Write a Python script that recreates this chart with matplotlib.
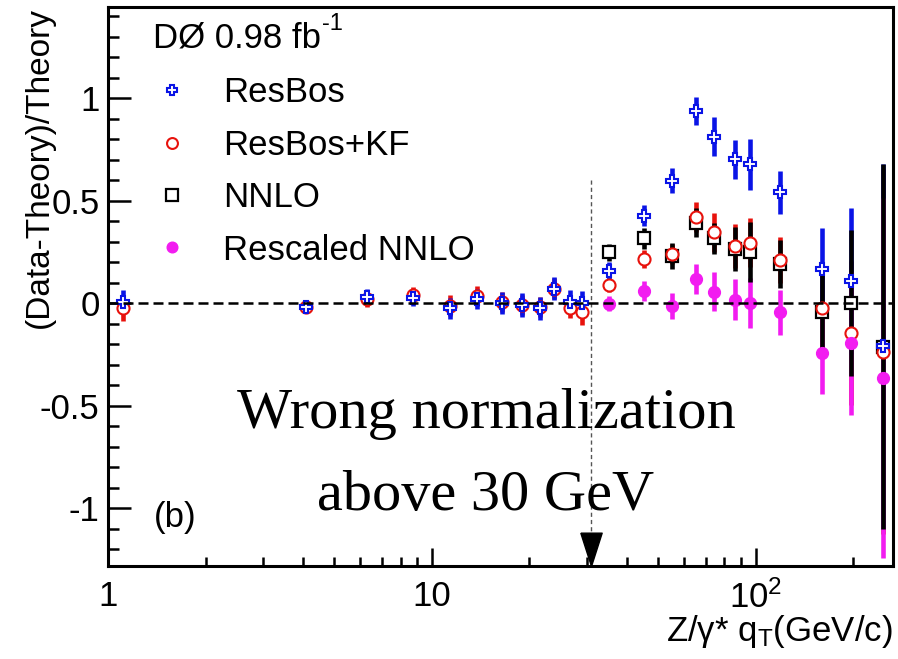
import numpy as np
import matplotlib.pyplot as plt
from matplotlib.ticker import FixedLocator, FixedFormatter, LogLocator, MultipleLocator, NullFormatter

plt.rcParams['font.family'] = ['Liberation Sans', 'DejaVu Sans']
plt.rcParams['mathtext.fontset'] = 'custom'
plt.rcParams['mathtext.rm'] = 'Liberation Sans'
plt.rcParams['mathtext.it'] = 'Liberation Sans:italic'
plt.rcParams['axes.unicode_minus'] = False

# bin centres in qT (GeV/c)
qt = [1.11, 4.08, 6.29, 8.75, 11.4, 13.8, 16.4, 19.0, 21.5, 23.8, 26.7, 29.0,
      35.2, 45.1, 55.2, 65.3, 74.2, 86.3, 96.0, 118.5, 159.5, 197.0, 247.0]
qt_hi = qt[12:]   # NNLO only above 30 GeV

resbos = [0.005, -0.02, 0.028, 0.023, -0.026, 0.02, 0.0, -0.01, -0.026, 0.07, 0.006, 0.0,
          0.158, 0.426, 0.597, 0.937, 0.811, 0.701, 0.677, 0.540, 0.164, 0.107, -0.21]
resbos_err = [0.06, 0.03, 0.04, 0.04, 0.05, 0.05, 0.056, 0.06, 0.055, 0.055, 0.057, 0.06,
              0.04, 0.05, 0.06, 0.07, 0.095, 0.095, 0.125, 0.105, 0.2, 0.355, 0.89]

resbos_kf = [-0.026, -0.02, 0.02, 0.04, -0.013, 0.034, 0.005, -0.01, -0.02, 0.07, -0.025, -0.045,
             0.088, 0.215, 0.239, 0.421, 0.345, 0.278, 0.294, 0.21, -0.026, -0.146, -0.237]
resbos_kf_err = [0.06, 0.03, 0.04, 0.04, 0.05, 0.05, 0.05, 0.05, 0.05, 0.05, 0.05, 0.06,
                 0.035, 0.045, 0.05, 0.073, 0.095, 0.106, 0.12, 0.11, 0.2, 0.35, 0.89]

nnlo = [0.247, 0.315, 0.229, 0.392, 0.315, 0.262, 0.25, 0.19, -0.045, 0.0, -0.213]
nnlo_err = [0.04, 0.05, 0.065, 0.07, 0.075, 0.108, 0.146, 0.118, 0.21, 0.356, 0.89]

rescaled = [-0.003, 0.058, -0.015, 0.115, 0.055, 0.015, 0.0, -0.045, -0.242, -0.197, -0.366]
rescaled_err = [0.037, 0.05, 0.063, 0.073, 0.095, 0.1, 0.12, 0.11, 0.2, 0.35, 0.88]

cut_qt = 31.0          # normalisation cut
cut_line_top = 0.6
ymin, ymax = -1.283, 1.444

fs = 25

fig = plt.figure(figsize=(8.98, 6.59), dpi=100)
ax = fig.add_axes([0.1203, 0.1411, 0.8741, 0.8483])
ax.set_xscale('log')
ax.set_xlim(1, 265)
ax.set_ylim(ymin, ymax)

ebar = dict(fmt='none', elinewidth=3.3, capsize=0)
ax.errorbar(qt, resbos_kf, yerr=resbos_kf_err, ecolor='#e8120c', zorder=2, **ebar)
ax.errorbar(qt, resbos, yerr=resbos_err, ecolor='#0a14e6', zorder=2.1, **ebar)
ax.errorbar(qt_hi, rescaled, yerr=rescaled_err, ecolor='#f21cf0', zorder=2.2, **ebar)
ax.errorbar(qt_hi, nnlo, yerr=nnlo_err, ecolor='black', zorder=2.3, **ebar)

h_nnlo, = ax.plot(qt_hi, nnlo, ls='none', marker='s', ms=9, mfc='white', mec='black',
                  mew=1.6, zorder=3, label='NNLO')
h_kf, = ax.plot(qt, resbos_kf, ls='none', marker='o', ms=8.7, mfc='white', mec='#e8120c',
                mew=1.5, zorder=3.1, label='ResBos+KF')
h_res, = ax.plot(qt_hi, rescaled, ls='none', marker='o', ms=8.5, color='#f21cf0',
                 zorder=3.2, label='Rescaled NNLO')
h_rb, = ax.plot(qt, resbos, ls='none', marker='P', ms=8.5, mfc='white', mec='#0a14e6',
                mew=1.5, zorder=3.3, label='ResBos')

ax.axhline(0, color='black', lw=1.8, ls=(0, (4, 2)), zorder=4)

# cut marker: dashed guide plus a downward arrow head on the axis
ax.plot([cut_qt, cut_qt], [cut_line_top, ymin + 0.16], color='#555555', lw=1.0,
        ls=(0, (3, 2.2)), zorder=1)
head = [(-0.32, 1.0), (0.32, 1.0), (0.0, 0.0), (-0.32, 1.0)]
ax.plot([cut_qt], [ymin], ls='none', marker=head, ms=48, color='black',
        clip_on=False, zorder=5)

ax.legend([h_rb, h_kf, h_nnlo, h_res], ['ResBos', 'ResBos+KF', 'NNLO', 'Rescaled NNLO'],
          loc='upper left', bbox_to_anchor=(0.059, 0.876), frameon=False, fontsize=fs,
          handlelength=1.0, handletextpad=0.98, labelspacing=0.56, borderpad=0,
          borderaxespad=0, numpoints=1, markerscale=0.9)

t = ax.text(0.0573, 0.9267, 'DØ 0.98 fb', transform=ax.transAxes, fontsize=fs,
            ha='left', va='baseline')
ax.annotate('-1', xy=(1, 0.62), xycoords=t, xytext=(1, 0), textcoords='offset points',
            fontsize=17, ha='left', va='bottom')
ax.text(0.0586, 0.0698, '(b)', transform=ax.transAxes, fontsize=fs, ha='left', va='baseline')

ax.text(0.4815, 0.2469, 'Wrong normalization', transform=ax.transAxes, fontsize=42,
        family='Liberation Serif', ha='center', va='baseline')
ax.text(0.4815, 0.1002, 'above 30 GeV', transform=ax.transAxes, fontsize=42,
        family='Liberation Serif', ha='center', va='baseline')

ax.xaxis.set_major_locator(FixedLocator([1, 10, 100]))
ax.xaxis.set_major_formatter(FixedFormatter(['1', '10', r'$\mathregular{10^{2}}$']))
ax.xaxis.set_minor_locator(LogLocator(base=10, subs=np.arange(2, 10)))
ax.xaxis.set_minor_formatter(NullFormatter())
ax.yaxis.set_major_locator(MultipleLocator(0.5))
ax.yaxis.set_minor_locator(MultipleLocator(0.1))
ax.yaxis.set_major_formatter(plt.FuncFormatter(lambda v, p: '%g' % round(v, 2)))

ax.tick_params(which='both', direction='in', top=False, right=False, width=1.8,
               labelsize=fs)
ax.tick_params(axis='y', which='major', length=16.5, pad=6)
ax.tick_params(axis='y', which='minor', length=8)
ax.tick_params(axis='x', which='major', length=13, pad=10)
ax.tick_params(axis='x', which='minor', length=6.5)
for s in ax.spines.values():
    s.set_linewidth(2.2)

ax.set_xlabel(r'Z/γ* q$_{\mathregular{T}}$(GeV/c)', fontsize=fs, loc='right')
ax.xaxis.label.set_verticalalignment('baseline')
ax.xaxis.set_label_coords(1.0, -0.134)
ax.set_ylabel('(Data-Theory)/Theory', fontsize=24, loc='top')
ax.yaxis.set_label_coords(-0.068, 1.0)

fig.savefig('out.png', dpi=100)
